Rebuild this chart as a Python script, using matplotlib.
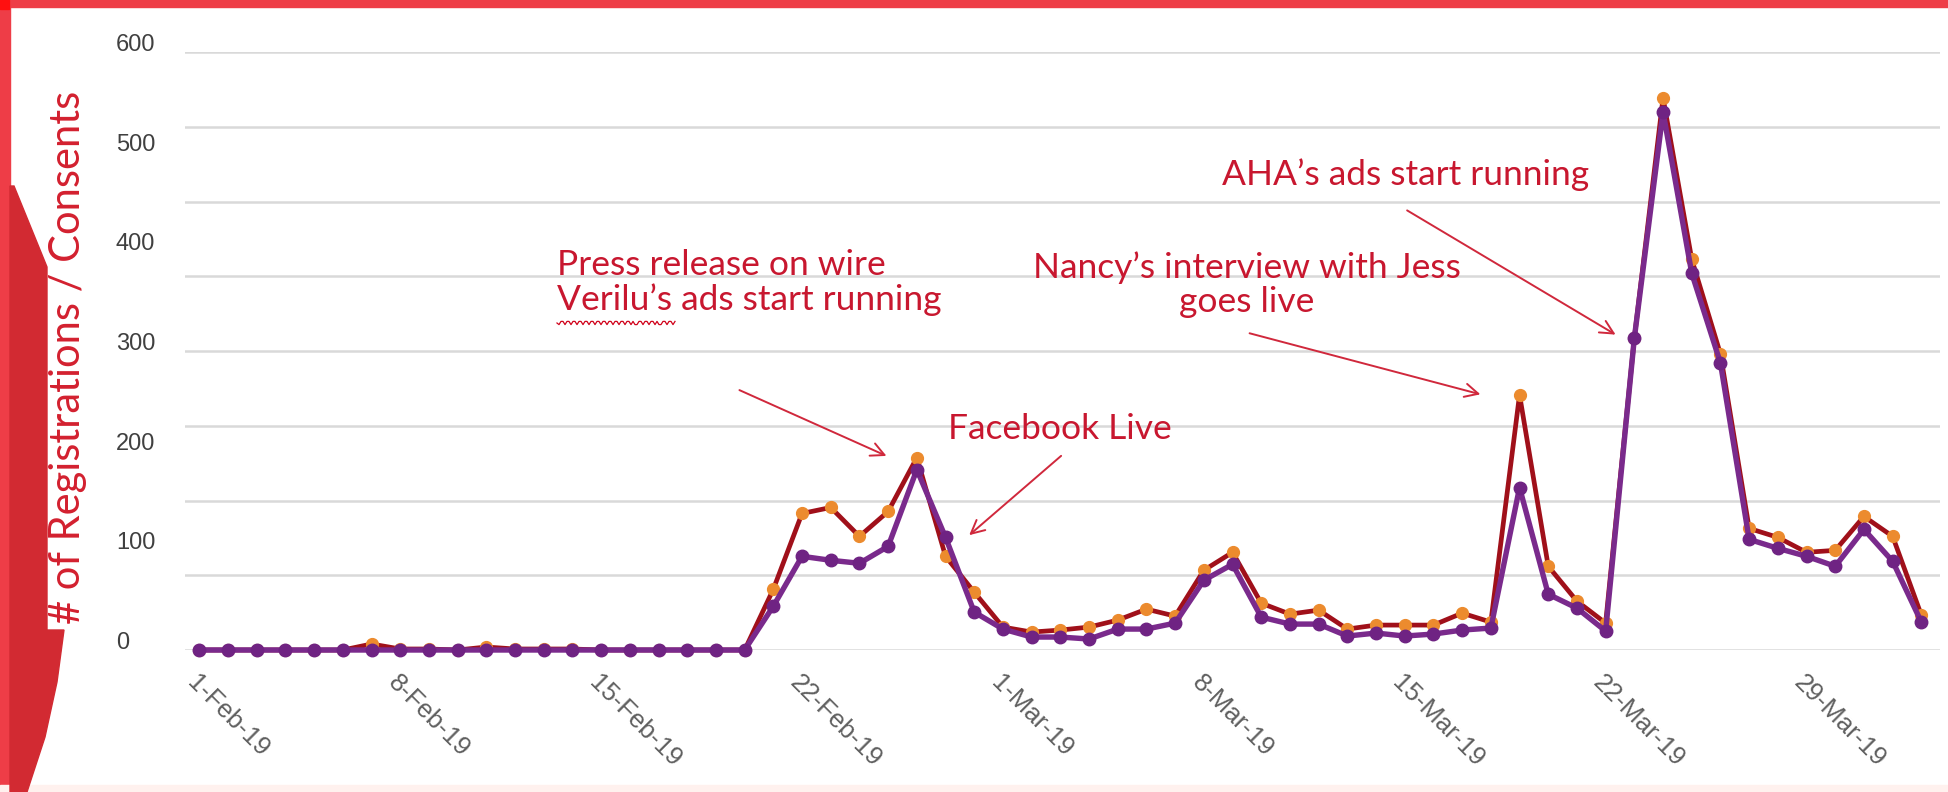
import numpy as np
import pandas as pd
import matplotlib
matplotlib.use("Agg")
import matplotlib.pyplot as plt
from matplotlib import transforms, font_manager
from matplotlib.patches import Polygon, Rectangle
from matplotlib.lines import Line2D

# daily counts, 1 Feb 2019 onwards
dates = pd.date_range("2019-02-01", "2019-04-02", freq="D")
registrations = [0, 0, 0, 0, 0, 0, 6, 1, 1, 0, 3, 1, 1, 1, 0, 0, 0, 0, 0, 0,
                 61, 137, 143, 114, 139, 193, 94, 58, 23, 18, 20, 23, 30, 41, 34,
                 80, 98, 47, 36, 40, 21, 25, 25, 25, 37, 28, 256, 84, 49, 27,
                 313, 554, 392, 297, 122, 113, 98, 100, 134, 114, 35]
consents = [0, 0, 0, 0, 0, 0, 0, 0, 0, 0, 0, 0, 0, 0, 0, 0, 0, 0, 0, 0,
            44, 94, 90, 87, 104, 181, 113, 38, 21, 13, 13, 11, 21, 21, 27,
            70, 86, 33, 26, 26, 14, 17, 14, 16, 20, 22, 163, 56, 42, 19,
            313, 540, 378, 288, 111, 102, 94, 84, 121, 89, 28]

tick_days = [0, 7, 14, 21, 28, 35, 42, 49, 56]
tick_labels = ["1-Feb-19", "8-Feb-19", "15-Feb-19", "22-Feb-19", "1-Mar-19",
               "8-Mar-19", "15-Mar-19", "22-Mar-19", "29-Mar-19"]
ytick_values = [0, 100, 200, 300, 400, 500, 600]
ytick_labels = ["0", "100", "200", "300", "400", "500", "600"]

installed = {f.name for f in font_manager.fontManager.ttflist}
axis_font = "Liberation Sans Narrow" if "Liberation Sans Narrow" in installed else "Liberation Sans"
note_font = "Lato"

W, H = 1949, 792
fig = plt.figure(figsize=(W / 100, H / 100), dpi=100)
fig.patch.set_facecolor("white")


def fx(px):
    return px / W


def fy(py):
    return 1 - py / H


# slide decoration: red frame and the dark ribbon on the left
bright = "#ee3d47"
dark = "#d22a32"
fig.patches.append(Rectangle((0, fy(7)), 1, 7 / H, color=bright, transform=fig.transFigure, zorder=0))
fig.patches.append(Rectangle((0, 0), fx(10), 1, color=bright, transform=fig.transFigure, zorder=0))
fig.patches.append(Rectangle((0, fy(9)), fx(9), 9 / H, color="#ff1010", transform=fig.transFigure, zorder=0))
fig.patches.append(Rectangle((0, 0), 1, 7 / H, color="#fff1ee", transform=fig.transFigure, zorder=0))
ribbon = [(10, 186), (14, 186), (47, 267), (47, 630), (64, 630), (57, 682),
          (45, 737), (27, 792), (10, 792)]
fig.patches.append(Polygon([(fx(a), fy(b)) for a, b in ribbon], closed=True,
                           color=dark, transform=fig.transFigure, zorder=0))

day = np.arange(len(dates))
ax = fig.add_axes([fx(185), fy(650), fx(1940) - fx(185), fy(52) - fy(650)])
ax.set_facecolor("none")

ax.plot(day, registrations, color="#a0101a", lw=3.4, marker="o", ms=8.5,
        mfc="#ec8b2e", mec="#ec8b2e", clip_on=False, zorder=3)
ax.plot(day, consents, color="#7a2a8c", lw=3.9, marker="o", ms=9,
        mfc="#6f2383", mec="#6f2383", clip_on=False, zorder=4)

ax.set_xlim(-0.5, 60.65)
ax.set_ylim(0, 600)
ax.set_yticks(np.arange(0, 601, 75))
ax.yaxis.grid(True, color="#d9d9d9", lw=1.8)
ax.set_axisbelow(True)
ax.tick_params(axis="y", length=0, labelleft=False)
for s in ax.spines.values():
    s.set_visible(False)

ax.set_xticks(tick_days, tick_labels, rotation=-45, ha="left", va="top",
              rotation_mode="anchor", fontsize=18.5, color="#5f5f5f", family=axis_font)
ax.tick_params(axis="x", length=0, pad=15)

ylab_tr = transforms.blended_transform_factory(ax.transAxes, ax.transData) + \
    transforms.ScaledTranslation(-0.69, 0.07, fig.dpi_scale_trans)
for v, lab in zip(ytick_values, ytick_labels):
    ax.text(0, v, lab, transform=ylab_tr, ha="left", va="center",
            fontsize=17, color="#404040", family=axis_font)

fig.text(fx(68), fy(357), "# of Registrations / Consents", rotation=90,
         ha="center", va="center", fontsize=30, color="#d3202f",
         family=note_font)

# event notes
red = "#c8172f"
fs = 25.5
arrow = dict(arrowstyle="->", color="#d0283c", lw=1.4, mutation_scale=24)
ax.text(12.47, 369, "Press release on wire\nVerilu\u2019s ads start running",
        ha="left", va="center", fontsize=fs, color=red, family=note_font,
        linespacing=1.08)
ax.annotate("", xy=(24.03, 193.6), xytext=(18.73, 261.9), arrowprops=arrow)

ax.text(26.08, 221.7, "Facebook Live", ha="left", va="center", fontsize=fs,
        color=red, family=note_font)
ax.annotate("", xy=(26.75, 113.4), xytext=(30.1, 196.6), arrowprops=arrow)

ax.text(36.5, 367, "Nancy\u2019s interview with Jess\ngoes live", ha="center",
        va="center", fontsize=fs, color=red, family=note_font, linespacing=1.08)
ax.annotate("", xy=(44.73, 255.8), xytext=(36.5, 318.5), arrowprops=arrow)

ax.text(35.63, 476.6, "AHA\u2019s ads start running", ha="left", va="center",
        fontsize=fs, color=red, family=note_font)
ax.annotate("", xy=(49.43, 315), xytext=(42.0, 442.5), arrowprops=arrow)

# spell-check squiggle under the brand name
wx = np.linspace(557, 675, 60)
wy = 323 + 1.6 * np.sign(np.sin((wx - 557) / 3.0 * np.pi))
fig.lines.append(Line2D(fx(wx), fy(wy), color="#d0021b", lw=0.9, transform=fig.transFigure))

fig.savefig("out.png", dpi=100)
